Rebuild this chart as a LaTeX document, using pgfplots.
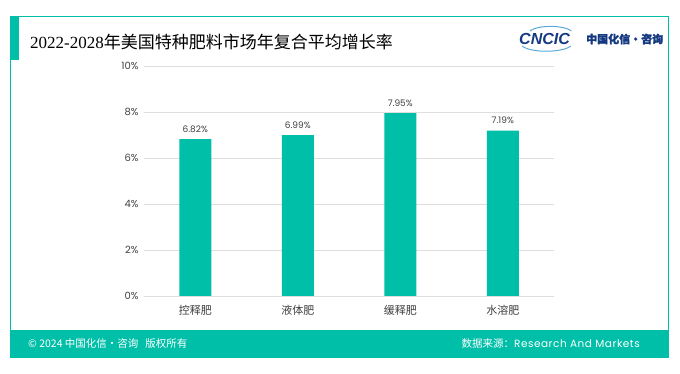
\documentclass[border=0pt]{standalone}
\usepackage{fontspec}
\usepackage{pgfplots}
\pgfplotsset{compat=1.18}
\setmainfont{Poppins}
\newfontfamily\cjk{Noto Sans CJK SC}
\newfontfamily\serif{Liberation Serif}
\newfontfamily\lsans{Liberation Sans}
\newfontfamily\spaced{Poppins}[LetterSpace=5]
\definecolor{teal}{RGB}{0,191,168}
\definecolor{gridc}{RGB}{222,222,222}
\definecolor{txt}{RGB}{64,64,64}
\definecolor{logoblue}{RGB}{22,58,130}
\definecolor{logolight}{RGB}{90,170,220}
\begin{document}
\begin{tikzpicture}[x=1pt,y=1pt]
\path[fill=white] (0,0) rectangle (680,374);
% frame
\draw[teal, line width=0.8pt] (10,17) rectangle (668,358);
\fill[teal] (10,314) rectangle (19,358);
\fill[teal] (10,17) rectangle (668,44);
% title
\node[anchor=west, inner sep=0pt, text=black] at (30,332)
  {\fontsize{17}{20}\selectfont\serif 2022-2028\cjk 年美国特种肥料市场年复合平均增长率};
% logo
\draw[logolight, line width=1pt] (522,328) arc[start angle=200, end angle=340, x radius=26, y radius=8];
\draw[logolight, line width=1pt] (530,343) arc[start angle=160, end angle=20, x radius=22, y radius=7];
\node[anchor=west, inner sep=0pt, text=logoblue] at (519,335)
  {\fontsize{16}{17}\selectfont\lsans\bfseries\itshape CNCIC};
\node[anchor=west, inner sep=0pt, text=logoblue] at (586,335)
  {\fontsize{11}{12}\selectfont\cjk\bfseries\addfontfeature{FakeBold=1.5} 中国化信·咨询};
% footer
\node[anchor=west, inner sep=0pt, text=white] at (28,30)
  {\fontsize{10.5}{12}\selectfont\cjk © 2024 中国化信·咨询\hspace{7pt}版权所有};
\node[anchor=east, inner sep=0pt, text=white] at (640,30)
  {\fontsize{10.5}{12}\selectfont\cjk 数据来源：\spaced Research And Markets};
\begin{axis}[
  at={(144pt,78pt)}, anchor=south west,
  width=410pt, height=230pt, scale only axis,
  xmin=-0.5, xmax=3.5, ymin=0, ymax=10,
  axis line style={draw=none},
  tick style={draw=none},
  ytick={0,2,4,6,8,10},
  yticklabel={\pgfmathprintnumber{\tick}\%},
  /pgf/number format/assume math mode=true,
  yticklabel style={font=\fontsize{10}{11}\selectfont, text=txt, xshift=-2pt},
  ymajorgrids, grid style={gridc, line width=0.8pt},
  xtick={0,1,2,3},
  xticklabels={控释肥,液体肥,缓释肥,水溶肥},
  xticklabel style={font=\fontsize{11}{12}\selectfont\cjk, text=txt, yshift=-1pt},
  ybar, bar width=32pt,
  nodes near coords={\pgfmathprintnumber[fixed,precision=2,fixed zerofill]{\pgfplotspointmeta}\%},
  nodes near coords style={font=\fontsize{9}{10}\selectfont, text=txt, /pgf/number format/assume math mode=true, yshift=3pt},
]
\addplot[fill=teal, draw=none] coordinates {(0,6.82) (1,6.99) (2,7.95) (3,7.19)};
\end{axis}
\end{tikzpicture}
\end{document}
